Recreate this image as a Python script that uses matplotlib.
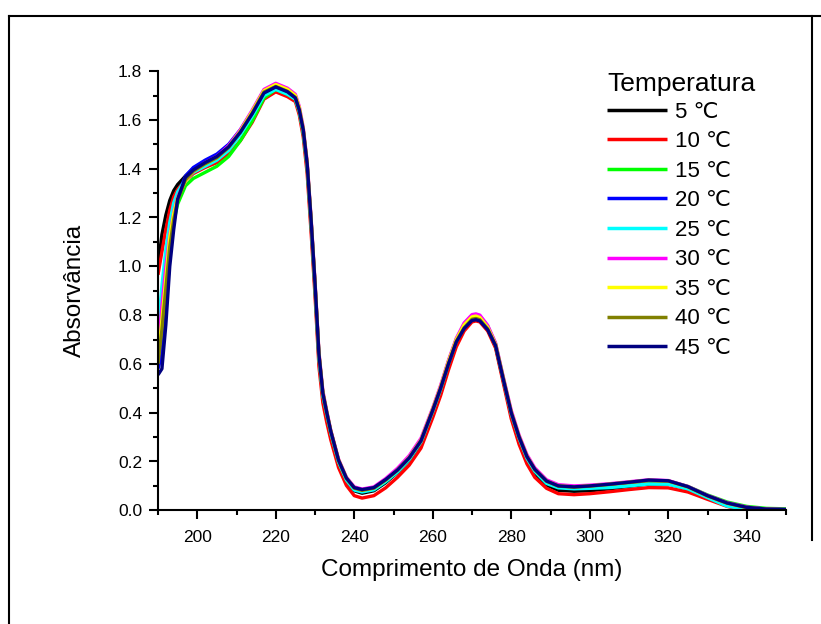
# ------------------------------------
# UV spectra at different temperatures
# ------------------------------------

import matplotlib
matplotlib.use("Agg")
import matplotlib.pyplot as plt
from matplotlib.lines import Line2D
from matplotlib.ticker import MultipleLocator

plt.rcParams["font.family"] = ["Liberation Sans", "DejaVu Sans"]

# ------------------------------------
# Data
# ------------------------------------

wavelength = [190, 191, 192, 193, 194, 195, 197, 199, 202, 205,
              208, 211, 214, 217, 220, 223, 225, 226, 227, 228,
              229, 230, 231, 232, 233, 234, 236, 238, 240, 242,
              245, 248, 251, 254, 257, 260, 262, 264, 266, 268,
              270, 271, 272, 274, 276, 278, 280, 282, 284, 286,
              289, 292, 296, 300, 305, 310, 315, 320, 325, 330,
              335, 340, 345, 350]

abs_5 = [1.00, 1.13, 1.21, 1.27, 1.31, 1.335, 1.37, 1.40, 1.425, 1.445,
         1.485, 1.545, 1.62, 1.705, 1.73, 1.71, 1.69, 1.635, 1.55, 1.41,
         1.17, 0.91, 0.62, 0.47, 0.39, 0.315, 0.195, 0.122, 0.08, 0.07,
         0.08, 0.113, 0.155, 0.205, 0.275, 0.40, 0.49, 0.595, 0.685, 0.745,
         0.782, 0.785, 0.78, 0.742, 0.672, 0.53, 0.39, 0.29, 0.207, 0.152,
         0.103, 0.082, 0.078, 0.08, 0.088, 0.098, 0.108, 0.108, 0.088, 0.055,
         0.027, 0.01, 0.004, 0.002]

abs_10 = [0.965, 1.06, 1.15, 1.23, 1.285, 1.315, 1.35, 1.38, 1.405, 1.425,
          1.46, 1.515, 1.59, 1.685, 1.715, 1.695, 1.675, 1.62, 1.53, 1.38,
          1.14, 0.88, 0.59, 0.44, 0.36, 0.29, 0.175, 0.102, 0.06, 0.05,
          0.06, 0.092, 0.135, 0.185, 0.255, 0.38, 0.47, 0.575, 0.67, 0.735,
          0.772, 0.776, 0.772, 0.735, 0.665, 0.52, 0.375, 0.27, 0.19, 0.135,
          0.09, 0.068, 0.064, 0.068, 0.076, 0.085, 0.093, 0.092, 0.075, 0.045,
          0.016, -0.004, -0.012, -0.015]

abs_15 = [0.60, 0.72, 0.88, 1.06, 1.18, 1.255, 1.33, 1.36, 1.385, 1.41,
          1.45, 1.515, 1.595, 1.69, 1.725, 1.705, 1.685, 1.635, 1.55, 1.41,
          1.18, 0.92, 0.63, 0.475, 0.395, 0.32, 0.20, 0.127, 0.088, 0.079,
          0.088, 0.12, 0.16, 0.212, 0.285, 0.415, 0.505, 0.61, 0.70, 0.762,
          0.797, 0.80, 0.795, 0.755, 0.683, 0.54, 0.402, 0.30, 0.22, 0.166,
          0.118, 0.099, 0.095, 0.099, 0.106, 0.114, 0.122, 0.12, 0.098, 0.063,
          0.034, 0.016, 0.008, 0.006]

abs_20 = [0.58, 0.64, 0.82, 1.04, 1.18, 1.29, 1.37, 1.405, 1.435, 1.46,
          1.50, 1.56, 1.635, 1.72, 1.74, 1.72, 1.695, 1.645, 1.56, 1.42,
          1.19, 0.93, 0.64, 0.48, 0.40, 0.325, 0.205, 0.131, 0.092, 0.083,
          0.092, 0.125, 0.165, 0.215, 0.285, 0.41, 0.50, 0.60, 0.695, 0.75,
          0.785, 0.79, 0.785, 0.745, 0.678, 0.537, 0.40, 0.30, 0.22, 0.168,
          0.12, 0.10, 0.096, 0.10, 0.107, 0.115, 0.123, 0.12, 0.096, 0.06,
          0.03, 0.012, 0.005, 0.003]

abs_25 = [0.74, 0.92, 1.07, 1.18, 1.26, 1.305, 1.355, 1.385, 1.41, 1.435,
          1.475, 1.54, 1.615, 1.70, 1.725, 1.705, 1.685, 1.635, 1.55, 1.41,
          1.175, 0.915, 0.625, 0.47, 0.393, 0.318, 0.198, 0.124, 0.083, 0.075,
          0.084, 0.117, 0.157, 0.208, 0.28, 0.405, 0.495, 0.60, 0.692, 0.75,
          0.787, 0.79, 0.785, 0.745, 0.676, 0.535, 0.395, 0.295, 0.213, 0.16,
          0.11, 0.092, 0.088, 0.09, 0.093, 0.10, 0.108, 0.107, 0.088, 0.052,
          0.017, 0.003, 0.001, 0.0]

abs_30 = [0.66, 0.84, 1.00, 1.13, 1.22, 1.285, 1.35, 1.39, 1.425, 1.45,
          1.495, 1.56, 1.64, 1.725, 1.75, 1.73, 1.705, 1.655, 1.57, 1.43,
          1.20, 0.94, 0.65, 0.49, 0.407, 0.33, 0.21, 0.136, 0.096, 0.087,
          0.096, 0.13, 0.172, 0.224, 0.295, 0.42, 0.512, 0.615, 0.705, 0.768,
          0.802, 0.805, 0.80, 0.758, 0.686, 0.545, 0.41, 0.308, 0.228, 0.174,
          0.125, 0.105, 0.10, 0.103, 0.109, 0.117, 0.125, 0.122, 0.098, 0.061,
          0.031, 0.013, 0.005, 0.003]

abs_35 = [0.62, 0.78, 0.95, 1.12, 1.215, 1.28, 1.35, 1.39, 1.42, 1.445,
          1.49, 1.555, 1.635, 1.72, 1.745, 1.725, 1.70, 1.65, 1.565, 1.425,
          1.195, 0.935, 0.645, 0.485, 0.403, 0.327, 0.207, 0.133, 0.092, 0.082,
          0.091, 0.124, 0.165, 0.217, 0.288, 0.415, 0.506, 0.61, 0.70, 0.76,
          0.793, 0.796, 0.79, 0.75, 0.68, 0.54, 0.403, 0.302, 0.222, 0.168,
          0.12, 0.10, 0.096, 0.10, 0.107, 0.115, 0.123, 0.12, 0.096, 0.059,
          0.029, 0.011, 0.004, 0.002]

abs_40 = [0.60, 0.74, 0.91, 1.08, 1.19, 1.27, 1.355, 1.39, 1.42, 1.445,
          1.487, 1.55, 1.628, 1.714, 1.737, 1.717, 1.692, 1.642, 1.558, 1.418,
          1.188, 0.928, 0.64, 0.48, 0.40, 0.325, 0.205, 0.131, 0.091, 0.082,
          0.091, 0.124, 0.164, 0.214, 0.284, 0.41, 0.50, 0.60, 0.692, 0.748,
          0.783, 0.786, 0.781, 0.743, 0.676, 0.536, 0.40, 0.30, 0.22, 0.167,
          0.119, 0.099, 0.095, 0.099, 0.106, 0.114, 0.122, 0.12, 0.096, 0.059,
          0.029, 0.011, 0.004, 0.003]

abs_45 = [0.555, 0.58, 0.76, 1.00, 1.15, 1.275, 1.365, 1.395, 1.425, 1.45,
          1.49, 1.55, 1.625, 1.71, 1.735, 1.715, 1.69, 1.64, 1.56, 1.42,
          1.19, 0.93, 0.64, 0.48, 0.40, 0.325, 0.205, 0.132, 0.093, 0.085,
          0.093, 0.126, 0.165, 0.215, 0.285, 0.41, 0.50, 0.60, 0.69, 0.745,
          0.778, 0.781, 0.776, 0.74, 0.675, 0.535, 0.40, 0.30, 0.22, 0.168,
          0.12, 0.10, 0.096, 0.10, 0.107, 0.115, 0.124, 0.121, 0.097, 0.06,
          0.03, 0.012, 0.005, 0.003]

labels = ["5 \u2103", "10 \u2103", "15 \u2103", "20 \u2103", "25 \u2103",
          "30 \u2103", "35 \u2103", "40 \u2103", "45 \u2103"]

colors = ["#000000", "#FF0000", "#00FF00", "#0000FF", "#00FFFF",
          "#FF00FF", "#FFFF00", "#808000", "#000080"]

spectra = [abs_5, abs_10, abs_15, abs_20, abs_25,
           abs_30, abs_35, abs_40, abs_45]

# ------------------------------------
# Figure
# ------------------------------------

fig = plt.figure(figsize=(8.21, 6.24), dpi=100)
ax = fig.add_axes([158 / 821, 1 - 510.3 / 624, 628 / 821, 439.2 / 624])

for y, c, lab in zip(spectra, colors, labels):
    ax.plot(wavelength, y, color=c, linewidth=2.4, label=lab,
            solid_joinstyle="round", solid_capstyle="butt")

ax.set_xlim(190, 350)
ax.set_ylim(0, 1.8)

ax.set_xticks([200, 220, 240, 260, 280, 300, 320, 340])
ax.xaxis.set_minor_locator(MultipleLocator(10))
ax.yaxis.set_major_locator(MultipleLocator(0.2))
ax.yaxis.set_minor_locator(MultipleLocator(0.1))
ax.yaxis.set_major_formatter(plt.FuncFormatter(lambda v, p: f"{v:.1f}"))

ax.spines["top"].set_visible(False)
ax.spines["right"].set_visible(False)
ax.spines["left"].set_linewidth(1.5)
ax.spines["bottom"].set_linewidth(1.5)

ax.tick_params(which="major", direction="out", length=6.5, width=1.5,
               labelsize=12.5, pad=5)
ax.tick_params(axis="x", which="major", pad=7.5)
ax.tick_params(which="minor", direction="out", length=3.5, width=1.5)

ax.set_xlabel("Comprimento de Onda (nm)", fontsize=17.5, labelpad=10)
ax.set_ylabel("Absorvância", fontsize=17.5, labelpad=23)

leg = ax.legend(title="Temperatura", loc="upper left",
                bbox_to_anchor=(607 / 821, 1 - 72 / 624),
                bbox_transform=fig.transFigure,
                frameon=False, fontsize=16, title_fontsize=19,
                handlelength=2.7, handletextpad=0.35, labelspacing=0.385,
                borderpad=0, borderaxespad=0, alignment="left")
leg._legend_box.sep = 4
for h in leg.get_lines():
    h.set_linewidth(2.5)

# outer frame lines
fig.add_artist(Line2D([9 / 821, 1.0], [1 - 16 / 624, 1 - 16 / 624],
                      color="black", linewidth=1.5))
fig.add_artist(Line2D([9 / 821, 9 / 821], [0, 1 - 16 / 624],
                      color="black", linewidth=1.5))
fig.add_artist(Line2D([812 / 821, 812 / 821], [1 - 16 / 624, 1 - 540 / 624],
                      color="black", linewidth=1.5))

plt.savefig("out.png", dpi=100)
plt.close()
